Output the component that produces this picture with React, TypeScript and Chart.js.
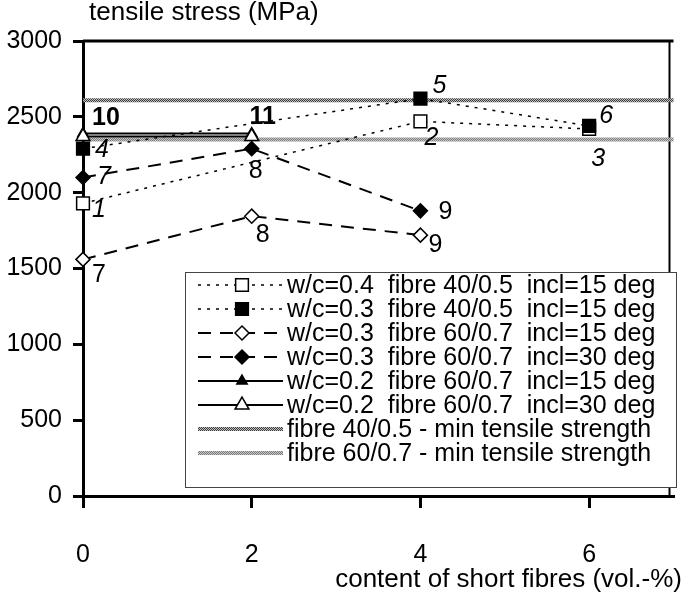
import React, { useEffect, useRef } from 'react';
import { Chart, registerables } from 'chart.js';

Chart.register(...registerables);

const FONT = "'Liberation Sans', Arial, Helvetica, sans-serif";

// ---------- data ----------
const xTicks = [0, 2, 4, 6];
const yTicks = [0, 500, 1000, 1500, 2000, 2500, 3000];

const s1X = [0, 4, 6];
const s1Y = [1930, 2470, 2420]; // w/c=0.4 fibre 40/0.5 incl=15
const s2X = [0, 4, 6];
const s2Y = [2290, 2620, 2440]; // w/c=0.3 fibre 40/0.5 incl=15
const s3X = [0, 2, 4];
const s3Y = [1560, 1845, 1720]; // w/c=0.3 fibre 60/0.7 incl=15
const s4X = [0, 2, 4];
const s4Y = [2100, 2290, 1880]; // w/c=0.3 fibre 60/0.7 incl=30
const s5X = [0, 2];
const s5Y = [2390, 2390]; // w/c=0.2 fibre 60/0.7 incl=15
const s6X = [0, 2];
const s6Y = [2370, 2370]; // w/c=0.2 fibre 60/0.7 incl=30

const refX = [0, 7];
const minStrength40 = 2610;
const minStrength60 = 2350;

const s1PointLabels = ['1', '2', '3'];
const s2PointLabels = ['4', '5', '6'];
const s3PointLabels = ['7', '8', '9'];
const s4PointLabels = ['7', '8', '9'];
const s5PointLabels = ['10', '11'];

const legendLabels = [
  'w/c=0.4  fibre 40/0.5  incl=15 deg',
  'w/c=0.3  fibre 40/0.5  incl=15 deg',
  'w/c=0.3  fibre 60/0.7  incl=15 deg',
  'w/c=0.3  fibre 60/0.7  incl=30 deg',
  'w/c=0.2  fibre 60/0.7  incl=15 deg',
  'w/c=0.2  fibre 60/0.7  incl=30 deg',
  'fibre 40/0.5 - min tensile strength',
  'fibre 60/0.7 - min tensile strength',
];

const yTitle = 'tensile stress (MPa)';
const xTitle = 'content of short fibres (vol.-%)';

// ---------- layout / style ----------
const POINT_LABELS = [s1PointLabels, s2PointLabels, s3PointLabels, s4PointLabels, s5PointLabels];
const LABEL_LAYOUT = [
  [{ s: 'italic', dx: 16, dy: 6 }, { s: 'italic', dx: 11, dy: 16 }, { s: 'italic', dx: 9, dy: 29 }],
  [{ s: 'italic', dx: 19, dy: 0 }, { s: 'italic', dx: 19, dy: -14 }, { s: 'italic', dx: 17, dy: -11 }],
  [{ s: 'normal', dx: 16, dy: 15 }, { s: 'normal', dx: 11, dy: 18 }, { s: 'normal', dx: 15, dy: 9 }],
  [{ s: 'italic', dx: 21, dy: -1 }, { s: 'normal', dx: 4, dy: 21 }, { s: 'normal', dx: 25, dy: 0 }],
  [{ s: 'bold', dx: 23, dy: -16 }, { s: 'bold', dx: 11, dy: -17 }],
];

const LEGEND = {
  left: 185, top: 272, right: 676, bottom: 487,
  sampleX0: 198, sampleX1: 283, markerX: 242, textX: 287,
  rowY0: 285, rowStep: 24,
};

const pairs = (xs: number[], ys: number[]) => xs.map((x, i) => ({ x, y: ys[i] }));

function makePattern(dark: string, light: string): CanvasPattern | string {
  const c = document.createElement('canvas');
  c.width = 2; c.height = 2;
  const g = c.getContext('2d');
  if (!g) return dark;
  g.fillStyle = light; g.fillRect(0, 0, 2, 2);
  g.fillStyle = dark; g.fillRect(0, 0, 1, 1); g.fillRect(1, 1, 1, 1);
  const p = g.createPattern(c, 'repeat');
  return p || dark;
}

function drawMarker(ctx: CanvasRenderingContext2D, style: string, x: number, y: number, r: number, fill: string, stroke: string, lw: number) {
  ctx.save();
  ctx.setLineDash([]);
  ctx.beginPath();
  if (style === 'rect') {
    const h = r * Math.SQRT1_2;
    ctx.rect(x - h, y - h, 2 * h, 2 * h);
  } else if (style === 'rectRot') {
    ctx.moveTo(x, y - r); ctx.lineTo(x + r, y); ctx.lineTo(x, y + r); ctx.lineTo(x - r, y); ctx.closePath();
  } else if (style === 'triangle') {
    const w = r * Math.cos(Math.PI / 6);
    ctx.moveTo(x, y - r); ctx.lineTo(x + w, y + r / 2); ctx.lineTo(x - w, y + r / 2); ctx.closePath();
  }
  ctx.fillStyle = fill; ctx.fill();
  ctx.lineWidth = lw; ctx.strokeStyle = stroke; ctx.stroke();
  ctx.restore();
}

const framePlugin = {
  id: 'frame',
  beforeDatasetsDraw(chart: any) {
    const { ctx, chartArea } = chart;
    ctx.save();
    ctx.strokeStyle = '#000';
    ctx.lineWidth = 3;
    ctx.beginPath();
    ctx.moveTo(chartArea.left, chartArea.top);
    ctx.lineTo(chartArea.right, chartArea.top);
    ctx.stroke();
    ctx.lineWidth = 2;
    ctx.beginPath();
    ctx.moveTo(chartArea.right - 4, chartArea.top);
    ctx.lineTo(chartArea.right - 4, chartArea.bottom);
    ctx.stroke();
    ctx.restore();
  },
};

const pointLabelPlugin = {
  id: 'pointLabels',
  afterDatasetsDraw(chart: any) {
    const ctx = chart.ctx;
    ctx.save();
    ctx.fillStyle = '#000';
    ctx.textAlign = 'center';
    ctx.textBaseline = 'middle';
    POINT_LABELS.forEach((texts, ds) => {
      const meta = chart.getDatasetMeta(ds);
      texts.forEach((t, i) => {
        const el = meta.data[i];
        const L = LABEL_LAYOUT[ds][i];
        if (!el) return;
        const st = L.s === 'italic' ? 'italic ' : L.s === 'bold' ? 'bold ' : '';
        ctx.font = `${st}25px ${FONT}`;
        ctx.fillText(t, el.x + L.dx, el.y + L.dy + 1);
      });
    });
    ctx.restore();
  },
};

const legendTitlePlugin = {
  id: 'legendTitles',
  afterDraw(chart: any) {
    const ctx = chart.ctx as CanvasRenderingContext2D;
    const ds = chart.data.datasets;
    ctx.save();
    ctx.fillStyle = '#fff';
    ctx.fillRect(LEGEND.left, LEGEND.top, LEGEND.right - LEGEND.left, LEGEND.bottom - LEGEND.top);
    ctx.strokeStyle = '#444';
    ctx.lineWidth = 1;
    ctx.strokeRect(LEGEND.left + 0.5, LEGEND.top + 0.5, LEGEND.right - LEGEND.left, LEGEND.bottom - LEGEND.top);
    legendLabels.forEach((label, i) => {
      const d = ds[i];
      const y = LEGEND.rowY0 + i * LEGEND.rowStep;
      ctx.save();
      ctx.setLineDash(d.borderDash || []);
      ctx.lineWidth = d.borderWidth;
      ctx.strokeStyle = d.borderColor;
      ctx.beginPath();
      ctx.moveTo(LEGEND.sampleX0, y);
      ctx.lineTo(LEGEND.sampleX1, y);
      ctx.stroke();
      ctx.restore();
      if (d.pointRadius > 0) {
        drawMarker(ctx, d.pointStyle, LEGEND.markerX, y, d.pointRadius, d.pointBackgroundColor, d.pointBorderColor, d.pointBorderWidth);
      }
      ctx.fillStyle = '#000';
      ctx.font = `25px ${FONT}`;
      ctx.textAlign = 'left';
      ctx.textBaseline = 'middle';
      ctx.fillText(label, LEGEND.textX, y + 1);
    });
    ctx.fillStyle = '#000';
    ctx.font = `26px ${FONT}`;
    ctx.textBaseline = 'alphabetic';
    ctx.textAlign = 'left';
    ctx.fillText(yTitle, chart.chartArea.left + 6, 20);
    ctx.textAlign = 'right';
    ctx.fillText(xTitle, 682, 587);
    ctx.restore();
  },
};

export default function App() {
  const ref = useRef<HTMLCanvasElement | null>(null);

  useEffect(() => {
    if (!ref.current) return;
    const pat40 = makePattern('#3a3a3a', '#c4c4c4');
    const pat60 = makePattern('#7a7a7a', '#c8c8c8');

    const series = (xs: number[], ys: number[], style: string, filled: boolean, dash: number[], lw: number, r: number, order: number) => ({
      data: pairs(xs, ys),
      borderColor: '#000',
      borderWidth: lw,
      borderDash: dash,
      pointStyle: style,
      pointRadius: r,
      pointHoverRadius: r,
      pointBackgroundColor: filled ? '#000' : '#fff',
      pointBorderColor: '#000',
      pointBorderWidth: 1.5,
      fill: false,
      tension: 0,
      clip: false,
      order,
    });

    const chart = new Chart(ref.current, {
      type: 'line',
      data: {
        datasets: [
          series(s1X, s1Y, 'rect', false, [3, 6], 1.5, 9, 4),
          series(s2X, s2Y, 'rect', true, [3, 6], 1.5, 9, 3),
          series(s3X, s3Y, 'rectRot', false, [13, 9], 2, 7, 2),
          series(s4X, s4Y, 'rectRot', true, [13, 9], 2, 7, 2),
          series(s5X, s5Y, 'triangle', true, [], 2, 6, 1),
          series(s6X, s6Y, 'triangle', false, [], 2, 8, 0),
          {
            data: pairs(refX, [minStrength40, minStrength40]),
            borderColor: pat40, borderWidth: 4, pointRadius: 0, borderDash: [], order: 9, clip: false,
          },
          {
            data: pairs(refX, [minStrength60, minStrength60]),
            borderColor: pat60, borderWidth: 4, pointRadius: 0, borderDash: [], order: 9, clip: false,
          },
        ] as any,
      },
      options: {
        animation: false,
        responsive: false,
        devicePixelRatio: 1,
        layout: { padding: { top: 41, right: 2, left: 0, bottom: 0 } },
        plugins: { legend: { display: false }, tooltip: { enabled: false } },
        events: [],
        scales: {
          x: {
            type: 'linear',
            min: 0,
            max: 7,
            afterBuildTicks: (scale: any) => { scale.ticks = xTicks.map((v) => ({ value: v })); },
            afterFit: (scale: any) => { scale.height = 99; },
            grid: { drawOnChartArea: false, drawTicks: true, tickLength: 12, lineWidth: 3, color: '#000' },
            border: { display: true, width: 3, color: '#000' },
            ticks: { color: '#000', font: { family: FONT, size: 25 }, padding: 32, maxRotation: 0, callback: (v: any) => String(v) },
          },
          y: {
            type: 'linear',
            min: 0,
            max: 3000,
            afterBuildTicks: (scale: any) => { scale.ticks = yTicks.map((v) => ({ value: v })); },
            afterFit: (scale: any) => { scale.width = 83; },
            grid: { drawOnChartArea: false, drawTicks: true, tickLength: 10, lineWidth: 3, color: '#000' },
            border: { display: true, width: 3, color: '#000' },
            ticks: { color: '#000', font: { family: FONT, size: 25 }, padding: 11, callback: (v: any) => String(v) },
          },
        },
      } as any,
      plugins: [framePlugin, pointLabelPlugin, legendTitlePlugin],
    });
    return () => chart.destroy();
  }, []);

  return (
    <div style={{ position: 'fixed', left: 0, top: 0, width: 684, height: 595, background: '#fff' }}>
      <canvas ref={ref} width={684} height={595} style={{ display: 'block' }} />
    </div>
  );
}
